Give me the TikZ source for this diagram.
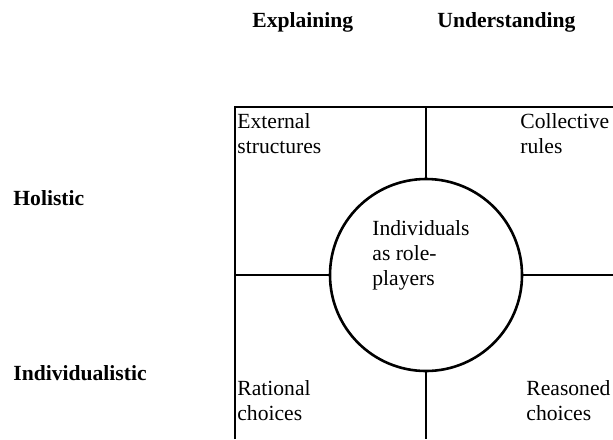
\documentclass[tikz,border=0pt]{standalone}
\usepackage{fontspec}
\setmainfont{Liberation Serif}

\begin{document}
\begin{tikzpicture}[x=0.5pt, y=-0.5pt,
    every node/.style={inner sep=0pt, font=\fontsize{10.8}{12.5}\selectfont},
    head/.style={anchor=base west, font=\fontsize{10.8}{12.5}\selectfont\bfseries},
    cell/.style={anchor=base west, align=left},
    thick line/.style={line width=1pt}]
    \useasboundingbox (0, 0) rectangle (613, 439);
    % column and row headings
    \node[head] (explain)    at (252,  27) {Explaining};
    \node[head] (understand) at (437,  27) {Understanding};
    \node[head] (holistic)   at ( 13, 205) {Holistic};
    \node[head] (indiv)      at ( 13, 380) {Individualistic};
    % frame and centre circle
    \node[circle, draw, line width=1.3pt, minimum size=96pt] (core) at (426, 275) {};
    \coordinate (topmid) at (426, 107);
    \coordinate (botmid) at (426, 439);
    \coordinate (leftmid) at (235, 275);
    \coordinate (rightmid) at (613, 275);
    \draw[thick line] (235, 439) -- (235, 107) -- (613, 107);
    \draw[thick line] (topmid) -- (core.north);
    \draw[thick line] (core.south) -- (botmid);
    \draw[thick line] (leftmid) -- (core.west);
    \draw[thick line] (core.east) -- (rightmid);
    % cell texts (base = last line)
    \node[cell] (ext)      at (237, 153) {External\\structures};
    \node[cell] (coll)     at (520, 153) {Collective\\rules};
    \node[cell] (roles)    at (372, 285) {Individuals\\as role-\\players};
    \node[cell] (rational) at (237, 420) {Rational\\choices};
    \node[cell] (reasoned) at (526, 420) {Reasoned\\choices};
\end{tikzpicture}
\end{document}
